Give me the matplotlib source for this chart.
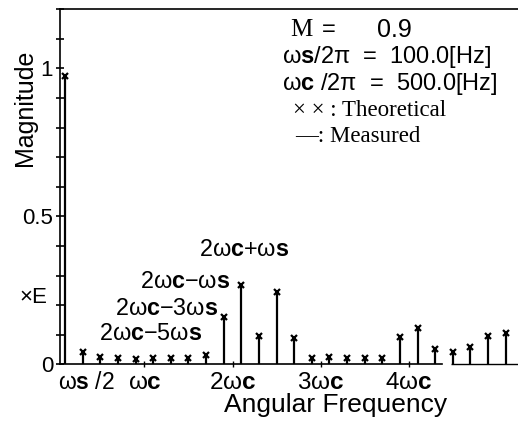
import matplotlib
matplotlib.use("Agg")
import matplotlib.pyplot as plt
from matplotlib.ticker import MultipleLocator

# spectrum lines: frequency [Hz] and magnitude
freq_hz = [50, 150, 250, 350, 450, 550, 650, 750, 850, 950,
           1050, 1150, 1250, 1350, 1450, 1550, 1650, 1750, 1850, 1950,
           2050, 2150, 2250, 2350, 2450, 2550]
magnitude = [0.974, 0.043, 0.026, 0.020, 0.019, 0.022, 0.022, 0.022, 0.031, 0.159,
             0.269, 0.094, 0.246, 0.088, 0.020, 0.024, 0.022, 0.020, 0.020, 0.092,
             0.124, 0.052, 0.041, 0.060, 0.097, 0.105]

xtick_pos = [500, 1000, 1500, 2000]
xtick_labels = ["ω$\\mathbf{c}$", "2ω$\\mathbf{c}$", "3ω$\\mathbf{c}$", "4ω$\\mathbf{c}$"]

plt.rcParams['font.family'] = ['Liberation Sans', 'DejaVu Sans']
plt.rcParams['mathtext.fontset'] = 'custom'
plt.rcParams['mathtext.bf'] = 'Liberation Sans:bold'
plt.rcParams['mathtext.rm'] = 'Liberation Sans'

W, H = 518, 423
fig = plt.figure(figsize=(W / 100, H / 100), dpi=100)
ax = fig.add_axes([60 / W, (H - 364.3) / H, 1 - 60 / W, (364.3 - 9.3) / H])


def px(x, y):
    return x / W, 1 - y / H


ax.vlines(freq_hz, 0, magnitude, color='black', lw=1.6)
ax.plot(freq_hz, magnitude, ls='none', marker='x', ms=5, mew=1.6, color='black')

ax.set_xlim(21, 2620)
ax.set_ylim(0, 1.2)

ax.spines['right'].set_visible(False)
ax.spines['bottom'].set_bounds(21, 2186)
ax.hlines(0, 2237, 2620, color='black', lw=1.0, clip_on=False)
for s in ['left', 'top', 'bottom']:
    ax.spines[s].set_linewidth(1.2)

ax.set_yticks([0, 0.5, 1])
ax.set_yticklabels(['0', '0.5', '1'], fontsize=16)
ax.yaxis.set_minor_locator(MultipleLocator(0.1))
ax.tick_params(axis='y', which='both', direction='inout', length=6, width=1.2, pad=2)
ax.set_xticks(xtick_pos)
ax.set_xticklabels(xtick_labels, fontsize=17.5)
ax.tick_params(axis='x', direction='inout', length=5, width=1, pad=3)

fig.text(*px(25, 108), 'Magnitude', rotation=90, fontsize=18, ha='center', va='center')
fig.text(*px(336, 405), 'Angular Frequency', fontsize=19, ha='center', va='center')
fig.text(*px(19, 297), '×E', fontsize=16, ha='left', va='center')
fig.text(*px(58, 382), 'ω$\\mathbf{s}$ /2', fontsize=16.5, ha='left', va='center')

# parameter block
fig.text(*px(290, 30), 'M', fontsize=18, family='Liberation Serif', ha='left', va='center')
fig.text(*px(322, 30), '=', fontsize=17, ha='left', va='center')
fig.text(*px(377, 30), '0.9', fontsize=18, ha='left', va='center')
fig.text(*px(282, 57), 'ω$\\mathbf{s}$/2π  =  100.0[Hz]', fontsize=17, ha='left', va='center')
fig.text(*px(282, 84), 'ω$\\mathbf{c}$ /2π  =  500.0[Hz]', fontsize=17, ha='left', va='center')
fig.text(*px(293, 110), '× × : Theoretical', fontsize=16.5, family='Liberation Serif',
         ha='left', va='center')
fig.text(*px(295, 137), '—: Measured', fontsize=16.5, family='Liberation Serif',
         ha='left', va='center')

# peak annotations
fig.text(*px(199, 250), '2ω$\\mathbf{c}$+ω$\\mathbf{s}$', fontsize=16.8, ha='left', va='center')
fig.text(*px(140, 282), '2ω$\\mathbf{c}$−ω$\\mathbf{s}$', fontsize=16.8, ha='left', va='center')
fig.text(*px(115, 308), '2ω$\\mathbf{c}$−3ω$\\mathbf{s}$', fontsize=16.8, ha='left', va='center')
fig.text(*px(99, 333), '2ω$\\mathbf{c}$−5ω$\\mathbf{s}$', fontsize=16.8, ha='left', va='center')

fig.savefig('out.png', dpi=100)
